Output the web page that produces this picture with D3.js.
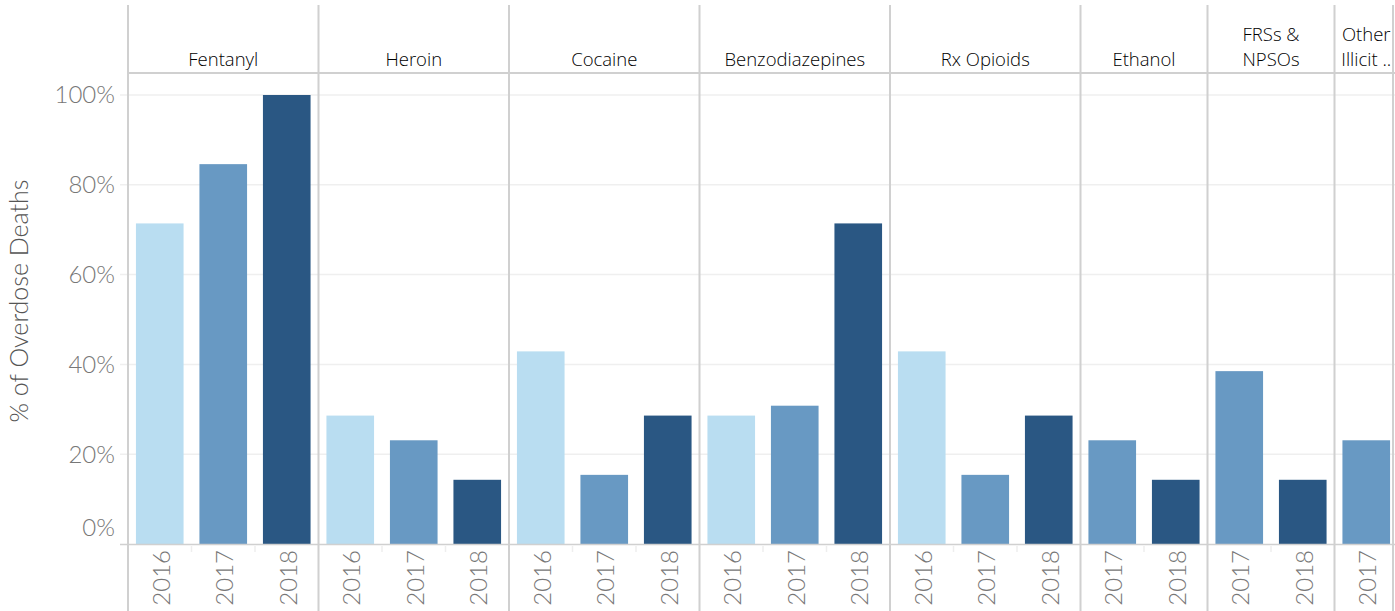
<!DOCTYPE html>
<html>
<head>
<meta charset="utf-8">
<script src="https://cdn.jsdelivr.net/npm/d3@7"></script>
<style>
  body { margin: 0; background: #fff; }
  svg { display: block; font-family: Lato, 'Open Sans', sans-serif; }
</style>
</head>
<body>
<svg id="chart" width="1395" height="611"></svg>
<script>
// drug panels, header lines and years
const drugs = ['Fentanyl', 'Heroin', 'Cocaine', 'Benzodiazepines', 'Rx Opioids', 'Ethanol', 'FRSs & NPSOs', 'Other Illicit ..'];
const headerLines = [['Fentanyl'], ['Heroin'], ['Cocaine'], ['Benzodiazepines'], ['Rx Opioids'], ['Ethanol'], ['FRSs &', 'NPSOs'], ['Other', 'Illicit ..']];
const years = ['2016', '2017', '2018'];

// % of overdose deaths per drug, by year (null = no column)
const fentanyl = [71.4, 84.6, 100];
const heroin = [28.6, 23.1, 14.3];
const cocaine = [42.9, 15.4, 28.6];
const benzodiazepines = [28.6, 30.8, 71.4];
const rxOpioids = [42.9, 15.4, 28.6];
const ethanol = [null, 23.1, 14.3];
const frsNpsos = [null, 38.5, 14.3];
const otherIllicit = [null, 23.1, null];
const series = [fentanyl, heroin, cocaine, benzodiazepines, rxOpioids, ethanol, frsNpsos, otherIllicit];

const yTicks = [0, 20, 40, 60, 80, 100];
const yearColors = ['#b9ddf1', '#6899c3', '#2a5783'];

const svg = d3.select('#chart');
const left = 128, right = 1398, topY = 5, headBottom = 73, base = 544, bottomY = 611;

// flatten to columns
const cols = [];
drugs.forEach(function (d, i) {
  series[i].forEach(function (v, j) {
    if (v !== null) cols.push({ drug: d, di: i, year: years[j], yi: j, value: v, key: d + '|' + years[j] });
  });
});

const x = d3.scaleBand()
  .domain(cols.map(function (c) { return c.key; }))
  .range([left, right])
  .paddingInner(0.25)
  .paddingOuter(0.125);

const step = x.step();
const y = d3.scaleLinear().domain([0, 100]).range([base, 95]);

// panel extents
const panels = drugs.map(function (d, i) {
  const cs = cols.filter(function (c) { return c.di === i; });
  const firstIdx = cols.indexOf(cs[0]);
  return { drug: d, i: i, cs: cs, x0: left + firstIdx * step, x1: left + (firstIdx + cs.length) * step };
});

// gridlines
svg.append('g')
  .selectAll('line')
  .data(yTicks.filter(function (t) { return t > 0; }))
  .join('line')
  .attr('x1', 120).attr('x2', 1395)
  .attr('y1', function (d) { return y(d); })
  .attr('y2', function (d) { return y(d); })
  .attr('stroke', '#efefef')
  .attr('stroke-width', 1.5);

// bars
svg.append('g')
  .selectAll('rect')
  .data(cols)
  .join('rect')
  .attr('x', function (c) { return x(c.key); })
  .attr('width', x.bandwidth())
  .attr('y', function (c) { return y(c.value); })
  .attr('height', function (c) { return base - y(c.value); })
  .attr('fill', function (c) { return yearColors[c.yi]; });

// baseline and header line
svg.append('line')
  .attr('x1', 120).attr('x2', 1395).attr('y1', base + 0.5).attr('y2', base + 0.5)
  .attr('stroke', '#d0d0d0').attr('stroke-width', 1.5);
svg.append('line')
  .attr('x1', left).attr('x2', 1395).attr('y1', headBottom).attr('y2', headBottom)
  .attr('stroke', '#d0d0d0').attr('stroke-width', 2);

// panel separators
const seps = [left].concat(panels.map(function (p) { return p.x1; }));
svg.append('g')
  .selectAll('line')
  .data(seps)
  .join('line')
  .attr('x1', function (d) { return Math.min(d, 1393); })
  .attr('x2', function (d) { return Math.min(d, 1393); })
  .attr('y1', topY).attr('y2', bottomY)
  .attr('stroke', '#d0d0d0').attr('stroke-width', 2);

// small ticks between years
svg.append('g')
  .selectAll('line')
  .data(cols.filter(function (c, k) { return k > 0 && cols[k - 1].di === c.di; }))
  .join('line')
  .attr('x1', function (c) { return x(c.key) - step * 0.125; })
  .attr('x2', function (c) { return x(c.key) - step * 0.125; })
  .attr('y1', base + 2).attr('y2', base + 8)
  .attr('stroke', '#eeeeee').attr('stroke-width', 1.5);

// headers
const head = svg.append('g')
  .selectAll('text')
  .data(panels)
  .join('text')
  .attr('text-anchor', 'middle')
  .attr('font-family', "'Open Sans', sans-serif")
  .attr('font-weight', 300)
  .attr('font-size', 18.5)
  .attr('fill', '#000');
head.each(function (p) {
  const lines = headerLines[p.i];
  const t = d3.select(this);
  lines.forEach(function (l, k) {
    t.append('tspan')
      .attr('x', (p.x0 + p.x1) / 2)
      .attr('y', 66 - (lines.length - 1 - k) * 25)
      .text(l);
  });
});

// year labels
svg.append('g')
  .selectAll('text')
  .data(cols)
  .join('text')
  .attr('transform', function (c) {
    return 'translate(' + (x(c.key) + x.bandwidth() / 2 + 10) + ',' + (base + 6) + ') rotate(-90)';
  })
  .attr('text-anchor', 'end')
  .attr('font-size', 24)
  .attr('font-weight', 300)
  .attr('fill', '#777')
  .text(function (c) { return c.year; });

// y tick labels
svg.append('g')
  .selectAll('text')
  .data(yTicks)
  .join('text')
  .attr('x', 115)
  .attr('y', function (d) { return d === 0 ? y(d) - 16 : y(d); })
  .attr('dy', '0.35em')
  .attr('text-anchor', 'end')
  .attr('font-size', 24)
  .attr('font-weight', 300)
  .attr('fill', '#777')
  .text(function (d) { return d + '%'; });

// y axis title
svg.append('text')
  .attr('transform', 'translate(28,' + 301 + ') rotate(-90)')
  .attr('text-anchor', 'middle')
  .attr('font-size', 25)
  .attr('font-weight', 300)
  .attr('fill', '#555')
  .text('% of Overdose Deaths');
</script>
</body>
</html>
